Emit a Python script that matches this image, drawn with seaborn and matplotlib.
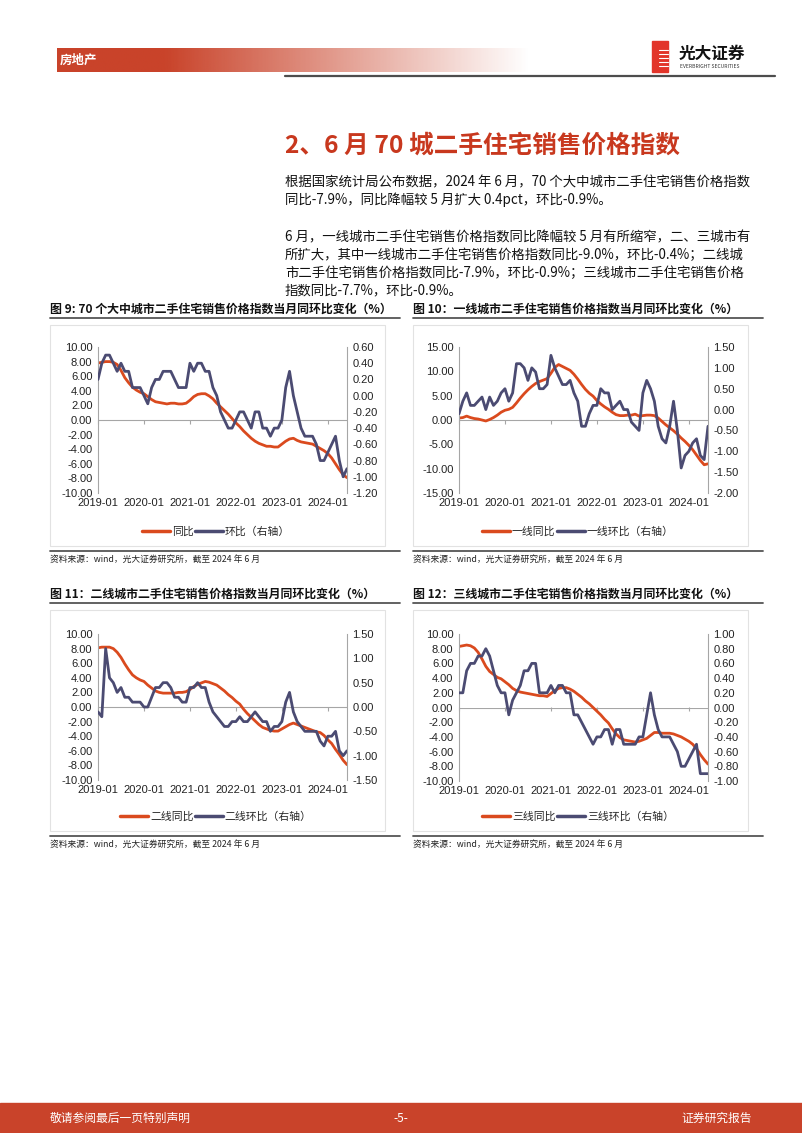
import numpy as np
import pandas as pd
import seaborn as sns
import matplotlib.pyplot as plt
from matplotlib.patches import Rectangle
from matplotlib.lines import Line2D
from matplotlib.colors import to_rgb
from matplotlib.ticker import FormatStrFormatter

# Data: monthly, 2019-01 .. 2024-06
months = pd.date_range('2019-01-01', periods=66, freq='MS')
year_ticks = ['2019-01', '2020-01', '2021-01', '2022-01', '2023-01', '2024-01']

# 70 cities
yoy_70 = [7.8, 7.9, 8.0, 8.0, 7.9, 7.6, 6.8, 5.8, 5.1, 4.5, 4.1, 3.8,
          3.6, 3.2, 2.8, 2.5, 2.4, 2.3, 2.2, 2.3, 2.3, 2.2, 2.2, 2.3,
          2.7, 3.2, 3.5, 3.6, 3.6, 3.3, 2.9, 2.3, 1.8, 1.3, 0.8, 0.2,
          -0.4, -0.9, -1.5, -2.0, -2.5, -2.9, -3.2, -3.4, -3.6, -3.6, -3.7, -3.7,
          -3.3, -2.9, -2.6, -2.5, -2.8, -3.0, -3.1, -3.2, -3.3, -3.6, -3.9, -4.2,
          -4.6, -5.2, -6.0, -6.8, -7.5, -7.9]
mom_70 = [0.2, 0.4, 0.5, 0.5, 0.4, 0.3, 0.4, 0.3, 0.3, 0.1, 0.1, 0.1,
          0.0, -0.1, 0.1, 0.2, 0.2, 0.3, 0.3, 0.3, 0.2, 0.1, 0.1, 0.1,
          0.4, 0.3, 0.4, 0.4, 0.3, 0.3, 0.1, 0.0, -0.2, -0.3, -0.4, -0.4,
          -0.3, -0.2, -0.2, -0.3, -0.4, -0.2, -0.2, -0.4, -0.4, -0.5, -0.4, -0.4,
          -0.3, 0.1, 0.3, 0.0, -0.2, -0.4, -0.5, -0.5, -0.5, -0.6, -0.8, -0.8,
          -0.7, -0.6, -0.5, -0.8, -1.0, -0.9]

# tier 1
yoy_t1 = [0.4, 0.5, 0.8, 0.5, 0.3, 0.2, 0.0, -0.2, 0.1, 0.5, 1.0, 1.6,
          2.0, 2.2, 2.6, 3.5, 4.5, 5.4, 6.2, 6.9, 7.5, 7.9, 8.2, 8.5,
          9.6, 10.8, 11.4, 11.0, 10.6, 10.2, 9.4, 8.4, 7.3, 6.3, 5.5, 4.9,
          4.0, 3.3, 2.7, 2.2, 1.6, 1.1, 0.9, 0.9, 1.0, 1.0, 1.2, 0.8,
          0.9, 1.0, 1.0, 0.9, 0.4, -0.3, -1.0, -1.6, -2.2, -2.9, -3.7, -4.4,
          -5.2, -6.1, -7.2, -8.3, -9.2, -9.0]
mom_t1 = [-0.1, 0.2, 0.4, 0.1, 0.1, 0.2, 0.3, 0.0, 0.3, 0.1, 0.2, 0.4,
          0.5, 0.2, 0.4, 1.1, 1.1, 1.0, 0.7, 1.0, 0.9, 0.5, 0.5, 0.6,
          1.3, 1.0, 0.8, 0.6, 0.6, 0.7, 0.4, 0.2, -0.4, -0.4, -0.1, 0.1,
          0.1, 0.5, 0.4, 0.4, 0.0, 0.1, 0.2, 0.0, 0.0, -0.3, -0.4, -0.5,
          0.4, 0.7, 0.5, 0.2, -0.4, -0.7, -0.8, -0.4, 0.2, -0.5, -1.4, -1.1,
          -1.0, -0.8, -0.7, -1.1, -1.2, -0.4]

# tier 2
yoy_t2 = [8.1, 8.2, 8.2, 8.2, 8.0, 7.5, 6.8, 5.9, 5.1, 4.4, 4.0, 3.7,
          3.5, 3.0, 2.6, 2.2, 2.0, 1.9, 1.9, 1.9, 1.9, 2.0, 2.0, 2.1,
          2.4, 2.8, 3.1, 3.3, 3.5, 3.4, 3.2, 3.0, 2.6, 2.2, 1.7, 1.3,
          0.8, 0.4, -0.3, -0.9, -1.4, -1.9, -2.4, -2.8, -3.0, -3.2, -3.3, -3.3,
          -3.0, -2.7, -2.4, -2.2, -2.4, -2.6, -2.8, -3.0, -3.2, -3.4, -3.5, -3.9,
          -4.5, -5.0, -5.8, -6.5, -7.3, -7.9]
mom_t2 = [-0.1, -0.2, 1.2, 0.6, 0.5, 0.3, 0.4, 0.2, 0.2, 0.1, 0.1, 0.1,
          0.0, 0.0, 0.2, 0.4, 0.4, 0.5, 0.5, 0.4, 0.2, 0.2, 0.1, 0.1,
          0.4, 0.4, 0.5, 0.4, 0.4, 0.1, -0.1, -0.2, -0.3, -0.4, -0.4, -0.3,
          -0.3, -0.2, -0.3, -0.3, -0.2, -0.1, -0.2, -0.3, -0.3, -0.5, -0.4, -0.4,
          -0.3, 0.1, 0.3, -0.1, -0.3, -0.4, -0.5, -0.5, -0.5, -0.5, -0.7, -0.8,
          -0.6, -0.6, -0.5, -0.9, -1.0, -0.9]

# tier 3
yoy_t3 = [8.3, 8.4, 8.5, 8.4, 8.1, 7.5, 6.6, 5.6, 4.9, 4.5, 4.1, 3.9,
          3.5, 3.1, 2.6, 2.3, 2.1, 2.0, 1.9, 1.8, 1.7, 1.6, 1.6, 1.5,
          1.9, 2.3, 2.6, 2.7, 2.7, 2.5, 2.2, 1.8, 1.4, 0.9, 0.5, 0.0,
          -0.5, -1.0, -1.6, -2.1, -2.9, -3.6, -4.1, -4.4, -4.5, -4.6, -4.7, -4.6,
          -4.4, -4.2, -3.8, -3.4, -3.4, -3.5, -3.5, -3.5, -3.6, -3.8, -4.0, -4.3,
          -4.6, -5.0, -5.6, -6.4, -7.1, -7.7]
mom_t3 = [0.2, 0.2, 0.5, 0.6, 0.6, 0.7, 0.7, 0.8, 0.7, 0.5, 0.3, 0.2,
          0.2, -0.1, 0.1, 0.2, 0.3, 0.5, 0.5, 0.6, 0.6, 0.2, 0.2, 0.2,
          0.3, 0.2, 0.3, 0.3, 0.2, 0.2, -0.1, -0.1, -0.2, -0.3, -0.4, -0.5,
          -0.4, -0.4, -0.3, -0.3, -0.5, -0.3, -0.3, -0.5, -0.5, -0.5, -0.5, -0.4,
          -0.4, -0.1, 0.2, -0.1, -0.3, -0.4, -0.4, -0.4, -0.5, -0.6, -0.8, -0.8,
          -0.7, -0.6, -0.5, -0.9, -0.9, -0.9]

RED = '#DA4A1E'
NAVY = '#4B4B72'
AXC = '#A6A6A6'
NUM_FONT = 'Liberation Sans'
BRAND = '#C9432A'

sns.set_style('white')
plt.rcParams['font.family'] = ['Noto Sans CJK SC', 'DejaVu Sans']
plt.rcParams['axes.unicode_minus'] = False

W, H = 802, 1133
fig = plt.figure(figsize=(W / 100, H / 100), dpi=100)


def fx(x):
    return x / W


def fy(y):
    return 1 - y / H


def hline(x0, x1, y, color='#555555', lw=1.2):
    fig.add_artist(Line2D([fx(x0), fx(x1)], [fy(y), fy(y)], color=color, lw=lw,
                          transform=fig.transFigure))


def chart(box, yoy, mom, names, lticks, rticks, leg_xy):
    left, top, right, bottom = box
    ax = fig.add_axes([fx(left), fy(bottom), (right - left) / W, (bottom - top) / H])
    axr = ax.twinx()
    df = pd.DataFrame({'m': np.arange(len(months)), 'yoy': yoy, 'mom': mom})
    ax.axhline(0, color=AXC, lw=0.8, zorder=0)
    sns.lineplot(data=df, x='m', y='yoy', ax=ax, color=RED, lw=2.0)
    sns.lineplot(data=df, x='m', y='mom', ax=axr, color=NAVY, lw=2.0)

    tick_pos = [months.get_loc(pd.Timestamp(t)) for t in year_ticks]
    ax.set_xlim(0, len(months) - 1)
    ax.set_ylim(lticks[0], lticks[-1])
    ax.set_yticks(lticks)
    axr.set_ylim(rticks[0], rticks[-1])
    axr.set_yticks(rticks)
    ax.set_xticks(tick_pos)
    ax.set_xticklabels(year_ticks)
    for a in (ax, axr):
        a.set_xlabel('')
        a.set_ylabel('')
        a.yaxis.set_major_formatter(FormatStrFormatter('%.2f'))
        a.tick_params(length=0, labelsize=8, labelcolor='#222222')
        for s in a.spines.values():
            s.set_visible(False)
    ax.tick_params(axis='y', pad=4)
    axr.tick_params(axis='y', pad=4)
    ax.tick_params(axis='x', pad=3.5)
    ax.spines['left'].set_visible(True)
    ax.spines['left'].set_color(AXC)
    axr.spines['right'].set_visible(True)
    axr.spines['right'].set_color(AXC)
    for lbl in ax.get_xticklabels() + ax.get_yticklabels() + axr.get_yticklabels():
        lbl.set_fontfamily(NUM_FONT)

    # small year marks on the zero line
    zero_frac = (0 - lticks[0]) / (lticks[-1] - lticks[0])
    sec = ax.secondary_xaxis(zero_frac)
    sec.set_xticks(tick_pos)
    sec.tick_params(direction='in', length=3, color=AXC, labelbottom=False, labeltop=False)
    for s in sec.spines.values():
        s.set_visible(False)

    handles = [Line2D([], [], color=RED, lw=2.5), Line2D([], [], color=NAVY, lw=2.5)]
    fig.legend(handles, names, loc='center', bbox_to_anchor=(fx(leg_xy[0]), fy(leg_xy[1])),
               ncol=2, frameon=False, fontsize=7.8, handlelength=2.6,
               handletextpad=0.15, columnspacing=0.15)


# ---------- page header ----------
hax = fig.add_axes([fx(57), fy(72), (530 - 57) / W, 24 / H])
grad = np.ones((1, 256, 4))
grad[..., :3] = to_rgb(BRAND)
grad[..., 3] = np.clip(np.linspace(1.3, 0.0, 256), 0, 1)
hax.imshow(grad, aspect='auto', extent=[0, 1, 0, 1])
hax.axis('off')
fig.text(fx(60), fy(60), '房地产', color='white', fontsize=9, weight='bold', va='center')

fig.add_artist(Rectangle((fx(652), fy(72)), 16 / W, 31 / H, transform=fig.transFigure,
                         color='#E2352A'))
for yy in (50, 54, 58, 62, 66):
    hline(659, 668, yy, color='white', lw=0.8)
fig.text(fx(679), fy(54), '光大证券', fontsize=12, weight='bold', va='center', color='#111111')
fig.text(fx(680), fy(67), 'EVERBRIGHT SECURITIES', fontsize=3.6, va='center', color='#333333')
hline(285, 775, 76, color='#4d4d4d', lw=1.6)

# ---------- section title and text ----------
fig.text(fx(285), fy(146), '2、6 月 70 城二手住宅销售价格指数', color='#C8381E',
         fontsize=17.7, weight='bold', va='center')
para = [
    (182, '根据国家统计局公布数据，2024 年 6 月，70 个大中城市二手住宅销售价格指数'),
    (200, '同比-7.9%，同比降幅较 5 月扩大 0.4pct，环比-0.9%。'),
    (237, '6 月，一线城市二手住宅销售价格指数同比降幅较 5 月有所缩窄，二、三城市有'),
    (255, '所扩大，其中一线城市二手住宅销售价格指数同比-9.0%，环比-0.4%；二线城'),
    (273, '市二手住宅销售价格指数同比-7.9%，环比-0.9%；三线城市二手住宅销售价格'),
    (290, '指数同比-7.7%，环比-0.9%。'),
]
for yy, line in para:
    fig.text(fx(285), fy(yy), line, fontsize=9.65, va='center', color='#111111')

# ---------- charts ----------
captions = [
    (50, 309, '图 9: 70 个大中城市二手住宅销售价格指数当月同环比变化（%）'),
    (413, 309, '图 10：一线城市二手住宅销售价格指数当月同环比变化（%）'),
    (50, 594, '图 11：二线城市二手住宅销售价格指数当月同环比变化（%）'),
    (413, 594, '图 12：三线城市二手住宅销售价格指数当月同环比变化（%）'),
]
for x0, yy, cap in captions:
    fig.text(fx(x0), fy(yy), cap, fontsize=8.6, weight='bold', va='center', color='#111111')
    hline(x0, x0 + 350, yy + 9, color='#555555', lw=1.3)

source = '资料来源：wind，光大证券研究所，截至 2024 年 6 月'
for x0, ytop, ybot in [(50, 325, 546), (413, 325, 546), (50, 610, 831), (413, 610, 831)]:
    fig.add_artist(Rectangle((fx(x0), fy(ybot)), (335) / W, (ybot - ytop) / H,
                             transform=fig.transFigure, fill=False, ec='#E2E2E2', lw=0.8))
    hline(x0, x0 + 350, ybot + 5, color='#555555', lw=1.3)
    fig.text(fx(x0), fy(ybot + 14), source, fontsize=6.3, va='center', color='#222222')

t_10 = [-10, -8, -6, -4, -2, 0, 2, 4, 6, 8, 10]
t_15 = [-15, -10, -5, 0, 5, 10, 15]
chart((98, 347, 347, 493), yoy_70, mom_70, ['同比', '环比（右轴）'], t_10,
      [-1.2, -1.0, -0.8, -0.6, -0.4, -0.2, 0.0, 0.2, 0.4, 0.6], (216, 532))
chart((459, 347, 708, 493), yoy_t1, mom_t1, ['一线同比', '一线环比（右轴）'], t_15,
      [-2.0, -1.5, -1.0, -0.5, 0.0, 0.5, 1.0, 1.5], (578, 532))
chart((98, 634, 347, 780), yoy_t2, mom_t2, ['二线同比', '二线环比（右轴）'], t_10,
      [-1.5, -1.0, -0.5, 0.0, 0.5, 1.0, 1.5], (216, 817))
chart((459, 634, 708, 781), yoy_t3, mom_t3, ['三线同比', '三线环比（右轴）'], t_10,
      [-1.0, -0.8, -0.6, -0.4, -0.2, 0.0, 0.2, 0.4, 0.6, 0.8, 1.0], (578, 817))

# ---------- footer ----------
fig.add_artist(Rectangle((0, 0), 1, 30 / H, transform=fig.transFigure, color=BRAND))
fig.text(fx(50), fy(1118), '敬请参阅最后一页特别声明', color='white', fontsize=8.5, va='center')
fig.text(fx(401), fy(1118), '-5-', color='white', fontsize=8.5, va='center', ha='center')
fig.text(fx(752), fy(1118), '证券研究报告', color='white', fontsize=8.5, va='center', ha='right')

fig.savefig('out.png', dpi=100)
